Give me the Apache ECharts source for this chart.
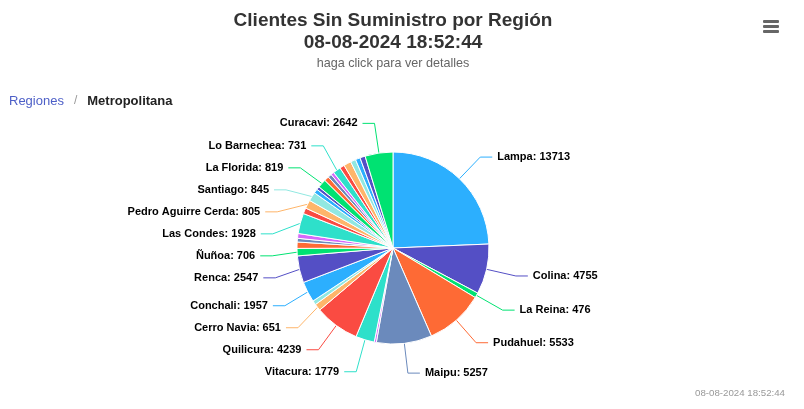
<!DOCTYPE html>
<html>
<head>
<meta charset="utf-8">
<script src="https://cdn.jsdelivr.net/npm/echarts@6/dist/echarts.min.js"></script>
<style>
html,body{margin:0;padding:0;background:#fff;}
#chart{width:804px;height:409px;}
</style>
</head>
<body>
<div id="chart"></div>
<script>
// Data (clockwise from 12 o'clock)
const comunas = [
  'Lampa','Colina','La Reina','Pudahuel','Maipu','Comuna 6','Vitacura','Quilicura','Cerro Navia','Comuna 10',
  'Conchali','Renca','Ñuñoa','Comuna 14','Comuna 15','Comuna 16','Las Condes','Comuna 18','Pedro Aguirre Cerda','Santiago',
  'Comuna 21','Comuna 22','La Florida','Comuna 24','Comuna 25','Comuna 26','Lo Barnechea','Comuna 28','Comuna 29','Comuna 30',
  'Comuna 31','Comuna 32','Curacavi'
];
const clientes = [
  13713,4755,476,5533,5257,200,1779,4239,651,400,
  1957,2547,706,600,350,450,1928,550,805,845,
  400,300,819,450,350,300,731,450,700,500,
  450,500,2642
];
// slices whose label is drawn in the reference
const conEtiqueta = [
  'Lampa','Colina','La Reina','Pudahuel','Maipu','Vitacura','Quilicura','Cerro Navia','Conchali','Renca',
  'Ñuñoa','Las Condes','Pedro Aguirre Cerda','Santiago','La Florida','Lo Barnechea','Curacavi'
];
const titulo = 'Clientes Sin Suministro por Región';
const fecha = '08-08-2024 18:52:44';
const subtitulo = 'haga click para ver detalles';

const palette = ['#2caffe','#544fc5','#00e272','#fe6a35','#6b8abc','#d568fb','#2ee0ca','#fa4b42','#feb56a','#91e8e1'];
const FONT = '"Liberation Sans", Arial, Helvetica, sans-serif';

const data = comunas.map((n, i) => ({
  name: n,
  value: clientes[i],
  label: { show: conEtiqueta.includes(n) },
  labelLine: { show: conEtiqueta.includes(n) }
}));

const chart = echarts.init(document.getElementById('chart'), null, {renderer: 'canvas'});
chart.setOption({
  animation: false,
  color: palette,
  textStyle: { fontFamily: FONT },
  title: [
    { text: titulo + '\n' + fecha, left: 393, top: 10, padding: 0, textAlign: 'center',
      textStyle: { fontFamily: FONT, fontSize: 19, fontWeight: 'bold', color: '#333333', lineHeight: 22 } },
    { text: subtitulo, left: 393, top: 57, padding: 0, textAlign: 'center',
      textStyle: { fontFamily: FONT, fontSize: 12.6, fontWeight: 'normal', color: '#666666', lineHeight: 14 } },
    { text: '{a|Regiones}{s|   /   }{b|Metropolitana}', left: 9, top: 93, padding: 0,
      textStyle: { fontFamily: FONT, fontSize: 13, lineHeight: 16, fontWeight: 'normal',
        rich: {
          a: { fontFamily: FONT, fontSize: 13, color: '#4d5fc7', fontWeight: 'normal' },
          s: { fontFamily: FONT, fontSize: 12, color: '#999999', fontWeight: 'normal' },
          b: { fontFamily: FONT, fontSize: 13, color: '#222222', fontWeight: 'bold' }
        } } },
    { text: fecha, right: 19, top: 388, padding: 0,
      textStyle: { fontFamily: FONT, fontSize: 9.7, fontWeight: 'normal', color: '#999999', lineHeight: 10 } }
  ],
  graphic: [
    { type: 'rect', shape: { x: 763, y: 20, width: 16, height: 3, r: 1 }, style: { fill: '#666666' } },
    { type: 'rect', shape: { x: 763, y: 25, width: 16, height: 3, r: 1 }, style: { fill: '#666666' } },
    { type: 'rect', shape: { x: 763, y: 30, width: 16, height: 3, r: 1 }, style: { fill: '#666666' } }
  ],
  series: [{
    type: 'pie',
    center: [393, 248],
    radius: 96,
    startAngle: 90,
    clockwise: true,
    avoidLabelOverlap: true,
    itemStyle: { borderColor: '#ffffff', borderWidth: 1 },
    label: {
      formatter: '{b}: {c}',
      fontFamily: FONT, fontSize: 11, fontWeight: 'bold', color: '#000000',
      distanceToLabelLine: 5,
      lineHeight: 20
    },
    labelLine: { length: 30, length2: 12, lineStyle: { width: 1 } },
    emphasis: { disabled: true },
    data: data
  }]
});
</script>
</body>
</html>
